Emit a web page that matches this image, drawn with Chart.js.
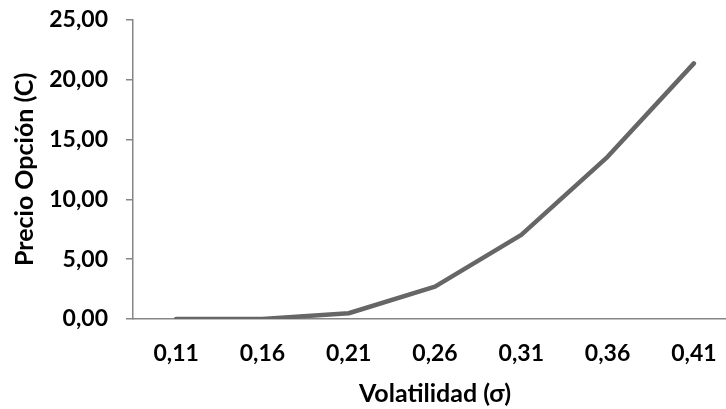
<!DOCTYPE html>
<html>
<head>
<meta charset="utf-8">
<script src="https://cdn.jsdelivr.net/npm/chart.js@4"></script>
<style>
  html, body { margin: 0; padding: 0; background: #fff; overflow: hidden; }
  /* a bit wider and taller than the window, pulled up to trim the top gap */
  #wrap { width: 738px; height: 421px; margin-top: -12px; }
</style>
</head>
<body>
<div id="wrap"><canvas id="myChart"></canvas></div>
<script>
const volatilidad = ["0,11", "0,16", "0,21", "0,26", "0,31", "0,36", "0,41"];
const precio = [0.0, 0.01, 0.48, 2.7, 7.03, 13.55, 21.36];
const yTicks = [0, 5, 10, 15, 20, 25];

const axisColor = "#868686";
const tickFont = { family: "Lato", size: 23, weight: "bold" };
const titleFont = { family: "Lato", size: 25, weight: "bold" };

const ctx = document.getElementById("myChart").getContext("2d");
const myChart = new Chart(ctx, {
  type: "line",
  data: {
    labels: volatilidad,
    datasets: [
      {
        label: "Precio",
        data: precio,
        borderColor: "#666666",
        borderWidth: 4.5,
        borderCapStyle: "round",
        borderJoinStyle: "round",
        pointRadius: 0,
        tension: 0,
        fill: false,
      },
    ],
  },
  options: {
    responsive: true,
    maintainAspectRatio: false,
    animation: false,
    layout: { padding: { top: 7, right: 1, bottom: 0, left: 0 } },
    plugins: {
      legend: { display: false },
      tooltip: { enabled: false },
    },
    scales: {
      x: {
        offset: true,
        grid: { drawOnChartArea: false, drawTicks: false },
        border: { display: true, color: axisColor, width: 1.5 },
        ticks: { color: "#000", font: tickFont, padding: 21, maxRotation: 0 },
        title: {
          display: true,
          text: "Volatilidad (σ)",
          color: "#000",
          font: titleFont,
          padding: { top: 4, bottom: 0 },
        },
        afterFit: (scale) => { scale.height = 90; },
      },
      y: {
        min: 0,
        max: 25,
        afterBuildTicks: (scale) => {
          scale.ticks = yTicks.map((v) => ({ value: v }));
        },
        grid: { drawOnChartArea: false, tickLength: 7, color: axisColor, lineWidth: 1.5 },
        border: { display: true, color: axisColor, width: 1.5 },
        ticks: {
          color: "#000",
          font: tickFont,
          padding: 18,
          callback: (v) => v.toFixed(2).replace(".", ","),
        },
        title: {
          display: true,
          text: "Precio Opción (C)",
          color: "#000",
          font: titleFont,
          padding: { top: 10, bottom: 6 },
        },
        afterFit: (scale) => { scale.width = 133; },
      },
    },
  },
});
</script>
</body>
</html>
